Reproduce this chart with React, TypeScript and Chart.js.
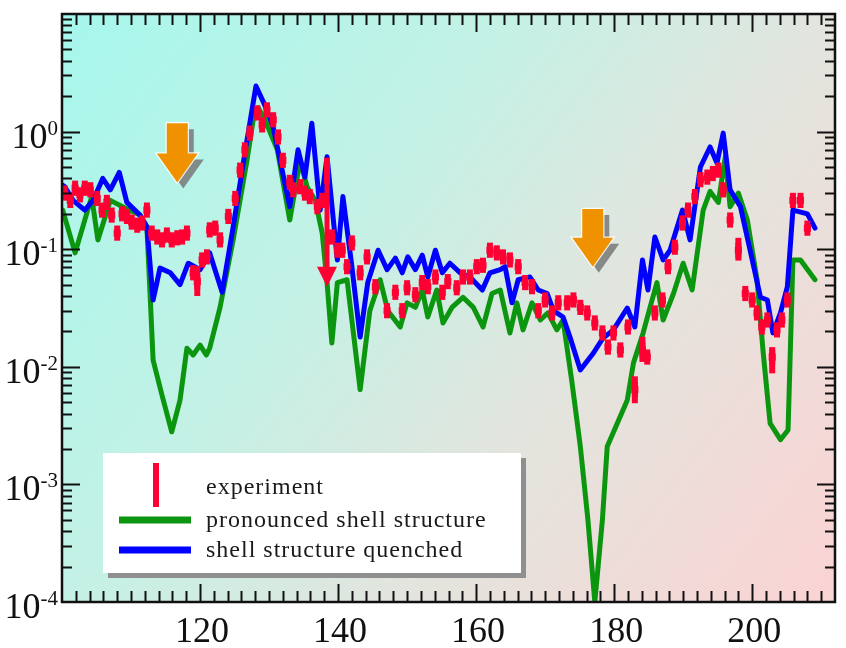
import { useEffect, useRef } from "react";
import { Chart, registerables } from "chart.js";

Chart.register(...registerables);

// Axis ranges
const X_MIN = 100;
const X_MAX = 212;
const Y_MIN = 1e-4;
const Y_MAX = 10;

// Tick layout
const xMajorTicks = [120, 140, 160, 180, 200];
const xMinorStep = 2;
const yLabelExponents = [0, -1, -2, -3, -4];
const yDecadeStart = -4;
const yDecadeEnd = 0;

const seriesNames = ["experiment", "pronounced shell structure", "shell structure quenched"];

const RED = "#ff0033";
const GREEN = "#0c960f";
const BLUE = "#0000ff";

// Measured cross-section points [x, y]
const experimentPoints: [number, number][] = [
  [100.4, 0.30], [101.2, 0.26], [101.9, 0.33], [102.6, 0.29], [103.3, 0.33], [104.1, 0.32],
  [105.1, 0.27], [105.8, 0.215], [106.5, 0.25], [107.2, 0.195], [108.0, 0.137], [108.7, 0.20],
  [109.4, 0.19], [110.1, 0.17], [110.9, 0.16], [111.6, 0.167], [112.3, 0.215], [113.0, 0.137],
  [113.8, 0.127], [114.5, 0.12], [115.2, 0.132], [115.9, 0.12], [116.7, 0.125], [117.4, 0.127],
  [118.1, 0.137], [119.0, 0.063], [119.6, 0.053], [120.3, 0.081], [121.0, 0.086], [121.4, 0.146],
  [122.2, 0.151], [122.9, 0.12], [124.1, 0.19], [125.1, 0.27], [125.8, 0.47], [126.5, 0.70],
  [127.2, 0.97], [128.3, 1.44], [129.0, 1.14], [129.7, 1.53], [130.6, 1.26], [131.3, 0.90],
  [132.0, 0.57], [133.0, 0.37], [133.5, 0.32], [134.5, 0.34], [135.2, 0.30], [135.9, 0.28],
  [137.0, 0.23], [137.7, 0.26], [139.1, 0.127], [139.9, 0.098], [140.6, 0.098], [141.3, 0.071],
  [142.0, 0.113], [143.2, 0.063], [144.2, 0.086], [145.4, 0.048], [147.1, 0.030], [148.3, 0.043],
  [149.3, 0.030], [150.0, 0.047], [151.2, 0.041], [152.2, 0.052], [153.0, 0.048], [154.1, 0.058],
  [155.1, 0.043], [155.9, 0.053], [157.2, 0.047], [158.1, 0.058], [159.1, 0.058], [160.1, 0.071],
  [161.0, 0.073], [162.0, 0.098], [163.0, 0.093], [163.9, 0.086], [164.9, 0.081], [166.1, 0.071],
  [167.1, 0.052], [168.1, 0.048], [169.0, 0.030], [170.0, 0.037], [171.0, 0.0287], [171.9, 0.035],
  [173.2, 0.035], [174.1, 0.037], [175.1, 0.032], [176.1, 0.0287], [177.2, 0.0236], [178.3, 0.0194],
  [179.1, 0.0147], [179.9, 0.0194], [180.9, 0.0139], [182.0, 0.0218], [183.0, 0.0064], [184.1, 0.0139],
  [184.8, 0.0121], [185.9, 0.0287], [187.0, 0.037], [187.8, 0.071], [188.8, 0.104], [189.9, 0.167],
  [190.7, 0.215], [191.7, 0.28], [192.5, 0.39], [193.5, 0.41], [194.3, 0.44], [195.1, 0.47],
  [195.8, 0.32], [196.8, 0.177], [198.0, 0.098], [199.0, 0.042], [200.0, 0.037], [200.7, 0.0287],
  [201.4, 0.0218], [202.2, 0.025], [202.9, 0.0121], [203.6, 0.0206], [204.3, 0.025], [205.1, 0.037],
  [205.9, 0.26], [207.0, 0.26], [208.0, 0.151],
];

// Typical relative uncertainty of a measured point
const experimentRelError = 0.16;

// Points with wider error bars [x, low, high]
const experimentWideErrors: [number, number, number][] = [
  [119.6, 0.040, 0.072],
  [138.4, 0.36, 0.60],
  [183.0, 0.0049, 0.0083],
  [184.1, 0.011, 0.018],
  [198.0, 0.080, 0.125],
  [202.9, 0.0088, 0.0147],
];

// Upper limit [x, y from, y limit]
const experimentLimits: [number, number, number][] = [[138.4, 0.5, 0.048]];

// Calculation with pronounced shell structure [x, y]
const pronouncedShell: [number, number][] = [
  [100.1, 0.215], [101.9, 0.093], [104.3, 0.28], [105.2, 0.12], [107.0, 0.26], [109.4, 0.22],
  [111.3, 0.195], [112.3, 0.155], [112.8, 0.037], [113.2, 0.0114], [114.5, 0.0057], [115.9, 0.0028],
  [117.1, 0.0052], [118.1, 0.0144], [119.0, 0.0126], [120.0, 0.0153], [120.9, 0.0126], [121.4, 0.0144],
  [122.9, 0.032], [124.8, 0.12], [126.8, 0.57], [127.7, 1.26], [128.4, 1.6], [129.4, 1.26],
  [131.2, 0.70], [133.0, 0.177], [134.5, 0.57], [135.5, 0.34], [136.7, 0.26], [137.7, 0.137],
  [138.4, 0.052], [139.1, 0.0159], [139.9, 0.052], [141.3, 0.055], [143.2, 0.0064], [144.6, 0.030],
  [146.1, 0.055], [147.2, 0.030], [149.0, 0.0218], [150.0, 0.035], [151.2, 0.032], [152.2, 0.045],
  [153.0, 0.0265], [154.3, 0.045], [155.2, 0.0236], [156.5, 0.032], [158.1, 0.039], [159.6, 0.032],
  [161.0, 0.0218], [162.3, 0.042], [163.5, 0.045], [164.9, 0.0194], [165.9, 0.035], [166.8, 0.0206],
  [168.1, 0.035], [169.3, 0.025], [170.4, 0.0287], [171.7, 0.0206], [172.6, 0.025], [173.9, 0.0073],
  [175.1, 0.0021], [176.2, 0.0005], [177.2, 0.0001], [178.3, 0.0005], [179.0, 0.0021], [181.9, 0.0052],
  [182.8, 0.0108], [184.2, 0.0194], [185.2, 0.032], [186.2, 0.052], [187.1, 0.025], [188.6, 0.042],
  [190.0, 0.076], [191.3, 0.045], [192.9, 0.215], [193.9, 0.31], [195.1, 0.25], [196.1, 0.61],
  [196.8, 0.23], [198.0, 0.30], [199.3, 0.177], [200.7, 0.055], [201.6, 0.0131], [202.6, 0.0033],
  [204.1, 0.0024], [205.2, 0.0029], [205.9, 0.081], [207.0, 0.081], [209.1, 0.055],
];

// Calculation with shell structure quenched [x, y]
const quenchedShell: [number, number][] = [
  [100.1, 0.35], [100.4, 0.34], [101.6, 0.26], [103.3, 0.215], [104.5, 0.26], [105.9, 0.40],
  [107.0, 0.32], [108.3, 0.45], [109.4, 0.25], [111.3, 0.195], [112.3, 0.155], [113.2, 0.037],
  [114.2, 0.069], [115.7, 0.063], [117.1, 0.050], [118.3, 0.076], [120.0, 0.067], [121.4, 0.093],
  [123.2, 0.043], [124.8, 0.155], [126.5, 0.66], [128.1, 2.44], [129.3, 1.72], [130.6, 1.09],
  [133.0, 0.23], [134.2, 0.70], [135.2, 0.41], [136.2, 1.18], [137.4, 0.215], [138.4, 0.61],
  [139.9, 0.081], [140.7, 0.28], [142.0, 0.071], [143.2, 0.0179], [144.3, 0.052], [145.8, 0.098],
  [147.1, 0.067], [148.3, 0.084], [149.3, 0.063], [150.1, 0.086], [151.2, 0.067], [152.2, 0.089],
  [153.0, 0.058], [154.1, 0.098], [155.1, 0.063], [156.2, 0.076], [157.7, 0.063], [159.1, 0.058],
  [160.9, 0.045], [162.0, 0.063], [163.5, 0.067], [164.2, 0.071], [165.2, 0.035], [166.1, 0.055],
  [167.8, 0.058], [169.0, 0.045], [170.3, 0.042], [171.2, 0.030], [172.6, 0.0265], [173.6, 0.0179],
  [175.1, 0.0094], [177.0, 0.0131], [178.4, 0.0176], [179.9, 0.0206], [181.9, 0.0316], [183.0, 0.0218],
  [184.1, 0.081], [184.9, 0.045], [185.9, 0.127], [187.1, 0.081], [188.1, 0.098], [189.9, 0.215],
  [191.0, 0.12], [192.5, 0.50], [193.9, 0.74], [194.9, 0.54], [195.8, 0.97], [196.8, 0.32],
  [198.3, 0.23], [199.7, 0.098], [201.2, 0.039], [202.2, 0.037], [203.0, 0.0194], [204.1, 0.0287],
  [205.1, 0.048], [205.9, 0.215], [208.0, 0.20], [209.1, 0.151],
];

// Highlight arrows [x, y of tail, y of tip]
const highlightArrows: [number, number, number][] = [
  [116.7, 1.18, 0.37],
  [176.9, 0.22, 0.071],
];

const SERIF = '"Liberation Serif", "Times New Roman", serif';

function drawArrow(ctx: CanvasRenderingContext2D, cx: number, yTop: number, yTip: number) {
  const shaftW = 21;
  const headW = 41;
  const headLen = 29;
  const headStart = yTip - headLen;
  const path = (dx: number, dy: number) => {
    ctx.beginPath();
    ctx.moveTo(cx - shaftW / 2 + dx, yTop + dy);
    ctx.lineTo(cx + shaftW / 2 + dx, yTop + dy);
    ctx.lineTo(cx + shaftW / 2 + dx, headStart + dy);
    ctx.lineTo(cx + headW / 2 + dx, headStart + dy);
    ctx.lineTo(cx + dx, yTip + dy);
    ctx.lineTo(cx - headW / 2 + dx, headStart + dy);
    ctx.lineTo(cx - shaftW / 2 + dx, headStart + dy);
    ctx.closePath();
  };
  ctx.save();
  path(6, 6);
  ctx.fillStyle = "rgba(120,120,120,0.85)";
  ctx.fill();
  path(0, 0);
  ctx.lineWidth = 2.5;
  ctx.strokeStyle = "rgba(255,255,255,0.85)";
  ctx.lineJoin = "miter";
  ctx.stroke();
  ctx.fillStyle = "#f09200";
  ctx.fill();
  ctx.restore();
}

const decorPlugin = {
  id: "decor",
  beforeDatasetsDraw(chart: any) {
    const { ctx, chartArea } = chart;
    const { left, top, right, bottom } = chartArea;
    const g = ctx.createLinearGradient(left, top, right, bottom);
    g.addColorStop(0, "rgb(166,247,236)");
    g.addColorStop(0.37, "rgb(196,241,229)");
    g.addColorStop(0.63, "rgb(226,229,222)");
    g.addColorStop(1, "rgb(251,211,211)");
    ctx.save();
    ctx.fillStyle = g;
    ctx.fillRect(left, top, right - left, bottom - top);
    ctx.restore();
  },
  afterDatasetsDraw(chart: any) {
    const { ctx, chartArea, scales } = chart;
    const { left, top, right, bottom } = chartArea;
    const xs = scales.x;
    const ys = scales.y;

    // Experimental error bars
    ctx.save();
    ctx.beginPath();
    ctx.rect(left, top, right - left, bottom - top);
    ctx.clip();
    ctx.strokeStyle = RED;
    ctx.fillStyle = RED;
    ctx.lineWidth = 6;
    ctx.lineCap = "butt";
    for (const [x, y] of experimentPoints) {
      const px = xs.getPixelForValue(x);
      ctx.beginPath();
      ctx.moveTo(px, ys.getPixelForValue(y * (1 + experimentRelError)));
      ctx.lineTo(px, ys.getPixelForValue(y / (1 + experimentRelError)));
      ctx.stroke();
    }
    for (const [x, lo, hi] of experimentWideErrors) {
      const px = xs.getPixelForValue(x);
      ctx.beginPath();
      ctx.moveTo(px, ys.getPixelForValue(hi));
      ctx.lineTo(px, ys.getPixelForValue(lo));
      ctx.stroke();
    }
    for (const [x, from, limit] of experimentLimits) {
      const px = xs.getPixelForValue(x);
      const pTip = ys.getPixelForValue(limit);
      ctx.lineWidth = 5;
      ctx.beginPath();
      ctx.moveTo(px, ys.getPixelForValue(from));
      ctx.lineTo(px, pTip - 10);
      ctx.stroke();
      ctx.beginPath();
      ctx.moveTo(px - 10, pTip - 20);
      ctx.lineTo(px + 10, pTip - 20);
      ctx.lineTo(px, pTip);
      ctx.closePath();
      ctx.fill();
    }
    ctx.restore();

    // Highlight arrows
    for (const [x, yTail, yTip] of highlightArrows) {
      drawArrow(ctx, xs.getPixelForValue(x), ys.getPixelForValue(yTail), ys.getPixelForValue(yTip));
    }

    // Frame and inward ticks
    ctx.save();
    ctx.strokeStyle = "#111";
    ctx.lineWidth = 2;
    ctx.beginPath();
    for (let v = X_MIN + xMinorStep; v < X_MAX; v += xMinorStep) {
      const px = Math.round(xs.getPixelForValue(v)) + 0.5;
      const len = xMajorTicks.includes(v) ? 18 : 11;
      ctx.moveTo(px, bottom);
      ctx.lineTo(px, bottom - len);
      ctx.moveTo(px, top);
      ctx.lineTo(px, top + len);
    }
    for (let d = yDecadeStart; d <= yDecadeEnd; d++) {
      for (let k = 1; k <= 9; k++) {
        const v = k * Math.pow(10, d);
        if (v <= Y_MIN) continue;
        const py = Math.round(ys.getPixelForValue(v)) + 0.5;
        const len = k === 1 ? 18 : 10;
        ctx.moveTo(left, py);
        ctx.lineTo(left + len, py);
        ctx.moveTo(right, py);
        ctx.lineTo(right - len, py);
      }
    }
    ctx.stroke();
    ctx.lineWidth = 2.5;
    ctx.strokeRect(left, top, right - left, bottom - top);
    ctx.restore();

    // Tick labels
    ctx.save();
    ctx.fillStyle = "#111";
    ctx.textBaseline = "alphabetic";
    ctx.font = `36px ${SERIF}`;
    ctx.textAlign = "center";
    for (const v of xMajorTicks) {
      ctx.fillText(String(v), xs.getPixelForValue(v) + 2, bottom + 40);
    }
    for (const e of yLabelExponents) {
      const py = ys.getPixelForValue(Math.pow(10, e));
      const expText = String(e);
      ctx.font = `21px ${SERIF}`;
      const ew = ctx.measureText(expText).width;
      const expX = left - 4 - ew;
      ctx.textAlign = "left";
      ctx.fillText(expText, expX, py + 3);
      ctx.font = `36px ${SERIF}`;
      ctx.textAlign = "right";
      ctx.fillText("10", expX, py + 16);
    }
    ctx.restore();

    // Legend box
    const bx = left + 41;
    const by = top + 439;
    const bw = 418;
    const bh = 120;
    ctx.save();
    ctx.fillStyle = "#8f8f8f";
    ctx.fillRect(bx + 5, by + 5, bw, bh);
    ctx.fillStyle = "#ffffff";
    ctx.fillRect(bx, by, bw, bh);
    ctx.lineCap = "butt";
    ctx.strokeStyle = RED;
    ctx.lineWidth = 6;
    ctx.beginPath();
    ctx.moveTo(bx + 53, by + 10);
    ctx.lineTo(bx + 53, by + 54);
    ctx.stroke();
    ctx.lineWidth = 7;
    ctx.strokeStyle = GREEN;
    ctx.beginPath();
    ctx.moveTo(bx + 16, by + 67);
    ctx.lineTo(bx + 88, by + 67);
    ctx.stroke();
    ctx.strokeStyle = BLUE;
    ctx.beginPath();
    ctx.moveTo(bx + 16, by + 97);
    ctx.lineTo(bx + 88, by + 97);
    ctx.stroke();
    ctx.fillStyle = "#1a1a1a";
    ctx.font = `24px ${SERIF}`;
    (ctx as any).letterSpacing = "1px";
    ctx.textAlign = "left";
    ctx.textBaseline = "alphabetic";
    ctx.fillText(seriesNames[0], bx + 103, by + 41);
    ctx.fillText(seriesNames[1], bx + 103, by + 74);
    ctx.fillText(seriesNames[2], bx + 103, by + 104);
    ctx.restore();
  },
};

export default function App() {
  const canvasRef = useRef<HTMLCanvasElement | null>(null);

  useEffect(() => {
    document.body.style.margin = "0";
    const canvas = canvasRef.current;
    if (!canvas) return;
    const toXY = (pts: [number, number][]) => pts.map(([x, y]) => ({ x, y }));
    const chart = new Chart(canvas, {
      type: "scatter",
      data: {
        datasets: [
          {
            label: seriesNames[0],
            data: toXY(experimentPoints),
            showLine: false,
            pointStyle: "rect",
            pointRadius: 5,
            backgroundColor: RED,
            borderColor: RED,
            borderWidth: 0,
            order: 0,
          },
          {
            label: seriesNames[1],
            data: toXY(pronouncedShell),
            showLine: true,
            borderColor: GREEN,
            backgroundColor: GREEN,
            borderWidth: 5,
            pointRadius: 0,
            borderJoinStyle: "round",
            borderCapStyle: "round",
            tension: 0,
            order: 2,
          },
          {
            label: seriesNames[2],
            data: toXY(quenchedShell),
            showLine: true,
            borderColor: BLUE,
            backgroundColor: BLUE,
            borderWidth: 5,
            pointRadius: 0,
            borderJoinStyle: "round",
            borderCapStyle: "round",
            tension: 0,
            order: 1,
          },
        ],
      },
      options: {
        animation: false,
        responsive: false,
        devicePixelRatio: 1,
        events: [],
        layout: { padding: { left: 62, top: 14, right: 11, bottom: 46 } },
        scales: {
          x: { type: "linear", min: X_MIN, max: X_MAX, display: false },
          y: { type: "logarithmic", min: Y_MIN, max: Y_MAX, display: false },
        },
        plugins: { legend: { display: false }, tooltip: { enabled: false } },
      },
      plugins: [decorPlugin],
    } as any);
    return () => chart.destroy();
  }, []);

  return (
    <div style={{ width: 846, height: 648, background: "#ffffff" }}>
      <canvas ref={canvasRef} width={846} height={648} style={{ display: "block" }} />
    </div>
  );
}
